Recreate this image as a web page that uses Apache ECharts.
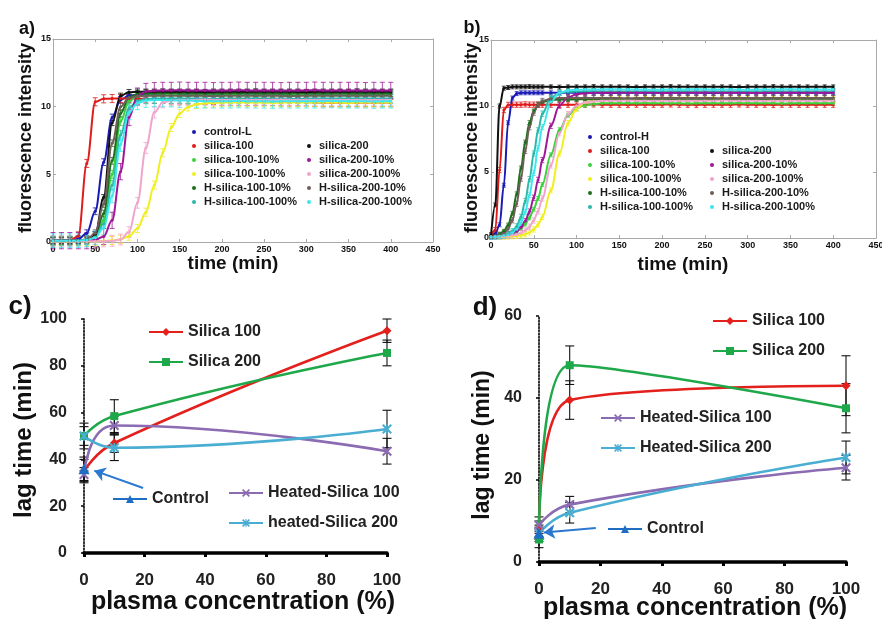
<!DOCTYPE html>
<html>
<head>
<meta charset="utf-8">
<title>Silica kinetics and lag times</title>
<script src="https://cdn.jsdelivr.net/npm/echarts@6/dist/echarts.min.js"></script>
<style>
  html, body { margin: 0; padding: 0; background: #ffffff; }
  #main { width: 882px; height: 619px; }
</style>
</head>
<body>
<div id="main"></div>
<script>
// ---------- panel a: fluorescence kinetics, sampling every 10 min ----------
const TIME_A = [0,10,20,30,40,50,60,70,80,90,100,110,120,130,140,150,160,170,180,190,
  200,210,220,230,240,250,260,270,280,290,300,310,320,330,340,350,360,370,380,390,400];

const A_CONTROL_L = [
  0.1, 0.1, 0.12, 0.22, 0.65, 2.27, 5.9, 9.2, 10.5, 10.82,
  10.88, 10.9, 10.9, 10.92, 10.9, 10.9, 10.88, 10.9, 10.9, 10.9,
  10.92, 10.9, 10.9, 10.9, 10.88, 10.9, 10.9, 10.9, 10.9, 10.92,
  10.9, 10.9, 10.9, 10.9, 10.88, 10.9, 10.9, 10.9, 10.9, 10.9,
  10.9];
const A_SILICA_100 = [
  0.1, 0.1, 0.1, 0.45, 5.8, 10.36, 10.58, 10.6, 10.6, 10.6,
  10.6, 10.58, 10.55, 10.55, 10.5, 10.5, 10.5, 10.48, 10.45, 10.45,
  10.4, 10.4, 10.4, 10.38, 10.4, 10.4, 10.38, 10.35, 10.35, 10.35,
  10.35, 10.32, 10.3, 10.3, 10.3, 10.3, 10.3, 10.3, 10.3, 10.3,
  10.3];
const A_SILICA_100_10 = [
  0.1, 0.1, 0.1, 0.11, 0.16, 0.41, 1.6, 5.0, 8.9, 10.4,
  10.76, 10.83, 10.85, 10.85, 10.86, 10.85, 10.85, 10.84, 10.85, 10.85,
  10.85, 10.86, 10.85, 10.85, 10.85, 10.84, 10.85, 10.85, 10.85, 10.86,
  10.85, 10.85, 10.85, 10.84, 10.85, 10.85, 10.85, 10.85, 10.85, 10.85,
  10.85];
const A_SILICA_100_100 = [
  0.05, 0.05, 0.05, 0.05, 0.05, 0.05, 0.07, 0.11, 0.2, 0.43,
  1.0, 2.2, 4.2, 6.6, 8.46, 9.5, 9.98, 10.17, 10.25, 10.28,
  10.3, 10.3, 10.32, 10.3, 10.3, 10.3, 10.28, 10.3, 10.3, 10.3,
  10.32, 10.3, 10.3, 10.3, 10.3, 10.28, 10.3, 10.3, 10.3, 10.3,
  10.3];
const A_H_SILICA_100_10 = [
  0.1, 0.1, 0.1, 0.12, 0.19, 0.53, 2.1, 6.0, 9.5, 10.7,
  10.93, 11.0, 11.0, 11.0, 11.02, 11.0, 11.0, 11.0, 10.98, 11.0,
  11.0, 11.0, 11.0, 11.02, 11.0, 11.0, 11.0, 11.0, 10.98, 11.0,
  11.0, 11.0, 11.0, 11.0, 11.02, 11.0, 11.0, 11.0, 11.0, 11.0,
  11.0];
const A_H_SILICA_100_100 = [
  0.1, 0.1, 0.1, 0.12, 0.16, 0.4, 1.35, 4.2, 7.9, 9.9,
  10.43, 10.57, 10.6, 10.6, 10.6, 10.62, 10.6, 10.6, 10.6, 10.58,
  10.6, 10.6, 10.6, 10.6, 10.62, 10.6, 10.6, 10.6, 10.6, 10.58,
  10.6, 10.6, 10.6, 10.6, 10.6, 10.62, 10.6, 10.6, 10.6, 10.6,
  10.6];
const A_SILICA_200 = [
  0.1, 0.1, 0.1, 0.1, 0.15, 0.57, 3.3, 8.8, 10.8, 11.07,
  11.1, 11.1, 11.1, 11.12, 11.1, 11.1, 11.1, 11.1, 11.08, 11.1,
  11.1, 11.1, 11.1, 11.1, 11.12, 11.1, 11.1, 11.1, 11.1, 11.1,
  11.08, 11.1, 11.1, 11.1, 11.1, 11.1, 11.12, 11.1, 11.1, 11.1,
  11.1];
const A_SILICA_200_10 = [
  0.1, 0.1, 0.1, 0.1, 0.1, 0.16, 0.41, 1.6, 5.2, 9.2,
  10.78, 11.12, 11.18, 11.2, 11.2, 11.22, 11.2, 11.2, 11.2, 11.18,
  11.2, 11.2, 11.22, 11.2, 11.2, 11.2, 11.2, 11.18, 11.2, 11.2,
  11.2, 11.22, 11.2, 11.2, 11.2, 11.2, 11.2, 11.18, 11.2, 11.2,
  11.2];
const A_SILICA_200_100 = [
  0.05, 0.05, 0.05, 0.05, 0.05, 0.05, 0.05, 0.08, 0.18, 0.73,
  2.9, 6.95, 9.57, 10.31, 10.46, 10.5, 10.5, 10.5, 10.52, 10.5,
  10.5, 10.5, 10.48, 10.5, 10.5, 10.5, 10.5, 10.52, 10.5, 10.5,
  10.5, 10.5, 10.5, 10.48, 10.5, 10.5, 10.5, 10.5, 10.5, 10.5,
  10.5];
const A_H_SILICA_200_10 = [
  0.1, 0.1, 0.1, 0.12, 0.19, 0.65, 2.8, 7.3, 10.0, 10.66,
  10.78, 10.8, 10.8, 10.8, 10.82, 10.8, 10.8, 10.8, 10.8, 10.78,
  10.8, 10.8, 10.8, 10.82, 10.8, 10.8, 10.8, 10.8, 10.78, 10.8,
  10.8, 10.8, 10.8, 10.8, 10.82, 10.8, 10.8, 10.8, 10.8, 10.8,
  10.8];
const A_H_SILICA_200_100 = [
  0.1, 0.1, 0.1, 0.1, 0.15, 0.32, 1.04, 3.4, 7.2, 9.56,
  10.28, 10.45, 10.5, 10.5, 10.48, 10.45, 10.45, 10.42, 10.4, 10.4,
  10.4, 10.4, 10.42, 10.4, 10.4, 10.4, 10.38, 10.4, 10.4, 10.4,
  10.4, 10.4, 10.4, 10.42, 10.4, 10.4, 10.4, 10.4, 10.38, 10.4,
  10.4];

// ---------- panel b: fluorescence kinetics, 5 min steps to 60 min, then 10 min ----------
const TIME_B = [0,5,10,15,20,25,30,35,40,45,50,55,60,
  70,80,90,100,110,120,130,140,150,160,
  170,180,190,200,210,220,230,240,250,260,
  270,280,290,300,310,320,330,340,350,360,
  370,380,390,400];

const B_CONTROL_H = [
  0.2, 0.33, 1.0, 4.0, 8.73, 10.6, 10.94, 11.0, 11.0, 11.0, 11.0, 11.0, 11.0,
  11.0, 11.0, 11.02, 11.0, 11.0, 11.0, 11.0, 10.98, 11.0, 11.0,
  11.0, 11.0, 11.0, 11.02, 11.0, 11.0, 11.0, 11.0, 11.0, 10.98,
  11.0, 11.0, 11.0, 11.0, 11.02, 11.0, 11.0, 11.0, 11.0, 11.0,
  11.0, 11.0, 11.0, 11.0];
const B_SILICA_100 = [
  0.2, 0.6, 5.15, 9.7, 10.08, 10.1, 10.1, 10.1, 10.12, 10.1, 10.1, 10.1, 10.1,
  10.1, 10.08, 10.1, 10.1, 10.1, 10.12, 10.1, 10.1, 10.1, 10.08,
  10.1, 10.1, 10.1, 10.1, 10.12, 10.1, 10.1, 10.08, 10.1, 10.1,
  10.1, 10.1, 10.12, 10.1, 10.1, 10.1, 10.08, 10.1, 10.1, 10.1,
  10.1, 10.1, 10.1, 10.1];
const B_SILICA_100_10 = [
  0.13, 0.14, 0.17, 0.21, 0.27, 0.36, 0.5, 0.72, 1.06, 1.53, 2.18, 3.0, 4.05,
  6.3, 8.2, 9.3, 9.83, 10.06, 10.15, 10.2, 10.2, 10.2, 10.2,
  10.2, 10.22, 10.2, 10.2, 10.2, 10.2, 10.18, 10.2, 10.2, 10.2,
  10.2, 10.2, 10.22, 10.2, 10.2, 10.2, 10.2, 10.18, 10.2, 10.2,
  10.2, 10.2, 10.2, 10.2];
const B_SILICA_100_100 = [
  0.1, 0.1, 0.1, 0.11, 0.12, 0.14, 0.16, 0.21, 0.29, 0.42, 0.65, 1.03, 1.6,
  3.6, 6.4, 8.7, 9.8, 10.27, 10.43, 10.48, 10.5, 10.5, 10.5,
  10.5, 10.52, 10.5, 10.5, 10.5, 10.48, 10.5, 10.5, 10.5, 10.5,
  10.52, 10.5, 10.5, 10.5, 10.5, 10.48, 10.5, 10.5, 10.5, 10.5,
  10.5, 10.5, 10.5, 10.5];
const B_H_SILICA_100_10 = [
  0.1, 0.19, 0.29, 0.51, 0.98, 1.87, 3.34, 5.3, 7.26, 8.74, 9.62, 10.1, 10.3,
  10.45, 10.5, 10.5, 10.5, 10.52, 10.5, 10.5, 10.5, 10.48, 10.5,
  10.5, 10.5, 10.5, 10.52, 10.5, 10.5, 10.5, 10.5, 10.5, 10.48,
  10.5, 10.5, 10.5, 10.5, 10.52, 10.5, 10.5, 10.5, 10.5, 10.5,
  10.5, 10.5, 10.5, 10.5];
const B_H_SILICA_100_100 = [
  0.1, 0.12, 0.15, 0.2, 0.3, 0.5, 0.88, 1.6, 2.8, 4.46, 6.4, 8.15, 9.42,
  10.64, 11.0, 11.07, 11.1, 11.1, 11.12, 11.1, 11.1, 11.1, 11.1,
  11.08, 11.1, 11.1, 11.1, 11.1, 11.12, 11.1, 11.1, 11.1, 11.1,
  11.1, 11.08, 11.1, 11.1, 11.1, 11.1, 11.12, 11.1, 11.1, 11.1,
  11.1, 11.1, 11.1, 11.1];
const B_SILICA_200 = [
  0.2, 2.5, 10.0, 11.35, 11.4, 11.45, 11.45, 11.45, 11.45, 11.47, 11.45, 11.45, 11.45,
  11.45, 11.43, 11.45, 11.45, 11.45, 11.47, 11.45, 11.45, 11.45, 11.45,
  11.43, 11.45, 11.45, 11.45, 11.47, 11.45, 11.45, 11.45, 11.45, 11.45,
  11.45, 11.45, 11.43, 11.45, 11.45, 11.45, 11.47, 11.45, 11.45, 11.45,
  11.45, 11.45, 11.45, 11.45];
const B_SILICA_200_10 = [
  0.1, 0.13, 0.15, 0.18, 0.24, 0.34, 0.52, 0.8, 1.28, 2.0, 3.05, 4.4, 5.9,
  8.5, 10.03, 10.66, 10.89, 10.96, 11.0, 11.0, 11.0, 11.02, 11.0,
  11.0, 11.0, 11.0, 10.98, 11.0, 11.0, 11.0, 11.0, 11.02, 11.0,
  11.0, 11.0, 11.0, 11.0, 10.98, 11.0, 11.0, 11.0, 11.0, 11.0,
  11.0, 11.0, 11.0, 11.0];
const B_SILICA_200_100 = [
  0.1, 0.12, 0.13, 0.14, 0.16, 0.2, 0.27, 0.38, 0.56, 0.86, 1.33, 2.03, 3.0,
  5.5, 7.94, 9.38, 10.02, 10.27, 10.36, 10.4, 10.4, 10.4, 10.42,
  10.4, 10.4, 10.4, 10.4, 10.38, 10.4, 10.4, 10.4, 10.4, 10.4,
  10.42, 10.4, 10.4, 10.4, 10.4, 10.38, 10.4, 10.4, 10.4, 10.4,
  10.4, 10.4, 10.4, 10.4];
const B_H_SILICA_200_10 = [
  0.1, 0.16, 0.22, 0.36, 0.69, 1.35, 2.6, 4.5, 6.6, 8.4, 9.5, 10.1, 10.38,
  10.55, 10.6, 10.6, 10.6, 10.62, 10.6, 10.6, 10.6, 10.6, 10.58,
  10.6, 10.6, 10.6, 10.6, 10.62, 10.6, 10.6, 10.6, 10.6, 10.6,
  10.58, 10.6, 10.6, 10.6, 10.6, 10.62, 10.6, 10.6, 10.6, 10.6,
  10.6, 10.6, 10.6, 10.6];
const B_H_SILICA_200_100 = [
  0.1, 0.12, 0.14, 0.18, 0.25, 0.4, 0.67, 1.15, 1.97, 3.26, 4.93, 6.8, 8.4,
  10.33, 11.0, 11.18, 11.23, 11.25, 11.25, 11.25, 11.27, 11.25, 11.25,
  11.25, 11.25, 11.23, 11.25, 11.25, 11.25, 11.25, 11.27, 11.25, 11.25,
  11.25, 11.25, 11.25, 11.23, 11.25, 11.25, 11.25, 11.25, 11.27, 11.25,
  11.25, 11.25, 11.25, 11.25];

const NAMES_A = ['control-L', 'silica-100', 'silica-100-10%', 'silica-100-100%', 'H-silica-100-10%',
  'H-silica-100-100%', 'silica-200', 'silica-200-10%', 'silica-200-100%', 'H-silica-200-10%', 'H-silica-200-100%'];
const NAMES_B = ['control-H', 'silica-100', 'silica-100-10%', 'silica-100-100%', 'H-silica-100-10%',
  'H-silica-100-100%', 'silica-200', 'silica-200-10%', 'silica-200-100%', 'H-silica-200-10%', 'H-silica-200-100%'];
const VALUES_A = [A_CONTROL_L, A_SILICA_100, A_SILICA_100_10, A_SILICA_100_100, A_H_SILICA_100_10,
  A_H_SILICA_100_100, A_SILICA_200, A_SILICA_200_10, A_SILICA_200_100, A_H_SILICA_200_10, A_H_SILICA_200_100];
const VALUES_B = [B_CONTROL_H, B_SILICA_100, B_SILICA_100_10, B_SILICA_100_100, B_H_SILICA_100_10,
  B_H_SILICA_100_100, B_SILICA_200, B_SILICA_200_10, B_SILICA_200_100, B_H_SILICA_200_10, B_H_SILICA_200_100];
// standard deviation of the replicate readings, one per curve
const SD_A = [0.25, 0.3, 0.3, 0.3, 0.25, 0.35, 0.2, 0.6, 0.4, 0.25, 0.5];
const SD_B = [0.15, 0.2, 0.15, 0.2, 0.15, 0.2, 0.15, 0.2, 0.2, 0.2, 0.2];
const COLORS_AB = ['#1a1ab4', '#e01b1b', '#3ad13a', '#f0ee1e', '#1e6e1e', '#2cb8a8',
  '#111111', '#a0189a', '#f0a6cc', '#6e5e58', '#3ee6ee'];

// ---------- panels c and d: lag time vs plasma concentration ----------
const PLASMA = [0, 10, 100];
const C_SILICA_100 = [35, 47, 95];
const C_SILICA_100_ERR = [5, 4, 5];
const C_SILICA_200 = [50, 58.5, 85.5];
const C_SILICA_200_ERR = [5.5, 7, 5.5];
const C_HEATED_100 = [33.5, 54.5, 43.5];
const C_HEATED_100_ERR = [3, 4, 5.5];
const C_HEATED_200 = [50, 45, 53];
const C_HEATED_200_ERR = [4, 5.5, 8];
const C_CONTROL = [36];
const C_CONTROL_ERR = [5];

const D_SILICA_100 = [8, 39.5, 43];
const D_SILICA_100_ERR = [2, 4.7, 7.3];
const D_SILICA_200 = [5.5, 48, 37.5];
const D_SILICA_200_ERR = [2, 4.7, 6];
const D_HEATED_100 = [9, 14, 23];
const D_HEATED_100_ERR = [2, 2, 3];
const D_HEATED_200 = [7, 12, 25.5];
const D_HEATED_200_ERR = [2, 2.5, 4];
const D_CONTROL = [7];
const D_CONTROL_ERR = [1.5];

const LAG_COLORS = {
  s100: '#e3201b', s200: '#1fa84a', h100: '#8b6bb2', h200: '#4aaed2', ctrl: '#1f6ec4'
};

const FONT = "'Liberation Sans', Arial, Helvetica, sans-serif";
const FRAME = '#a9a9a9';
const X_MARK = 'path://M0,1.5L1.5,0L5,3.5L8.5,0L10,1.5L6.5,5L10,8.5L8.5,10L5,6.5L1.5,10L0,8.5L3.5,5Z';
const STAR_MARK = 'path://M0,1.5L1.5,0L5,3.5L8.5,0L10,1.5L6.5,5L10,8.5L8.5,10L5,6.5L1.5,10L0,8.5L3.5,5Z' +
  'M4.3,0L5.7,0L5.7,10L4.3,10Z';

const chart = echarts.init(document.getElementById('main'), null, { renderer: 'canvas' });

// error bar drawing: vertical whisker with caps
function errorRenderer(color, capHalf, width, fixedSd) {
  return function (params, api) {
    const x = api.value(0), y = api.value(1);
    const e = fixedSd != null ? fixedSd : api.value(2);
    const top = api.coord([x, y + e]);
    const bot = api.coord([x, y - e]);
    const style = { stroke: color, lineWidth: width, fill: null };
    return {
      type: 'group',
      children: [
        { type: 'line', shape: { x1: top[0], y1: top[1], x2: bot[0], y2: bot[1] }, style: style },
        { type: 'line', shape: { x1: top[0] - capHalf, y1: top[1], x2: top[0] + capHalf, y2: top[1] }, style: style },
        { type: 'line', shape: { x1: bot[0] - capHalf, y1: bot[1], x2: bot[0] + capHalf, y2: bot[1] }, style: style }
      ]
    };
  };
}

const series = [];

function addKinetics(names, times, values, sds, axisIndex, cap) {
  names.forEach(function (name, i) {
    const pts = times.map(function (t, k) { return [t, values[i][k]]; });
    series.push({
      type: 'line', name: name, xAxisIndex: axisIndex, yAxisIndex: axisIndex,
      data: pts, smooth: 0.35, smoothMonotone: 'x',
      symbol: 'circle', symbolSize: 3, showSymbol: true,
      lineStyle: { width: 2, color: COLORS_AB[i] },
      itemStyle: { color: COLORS_AB[i] },
      emphasis: { disabled: true }, z: 3
    });
  });
  names.forEach(function (name, i) {
    const pts = times.map(function (t, k) { return [t, values[i][k]]; });
    series.push({
      type: 'custom', name: name, xAxisIndex: axisIndex, yAxisIndex: axisIndex,
      data: pts, encode: { x: 0, y: 1 }, silent: true, z: 2,
      itemStyle: { color: COLORS_AB[i] },
      renderItem: errorRenderer(COLORS_AB[i], cap, 0.8, sds[i])
    });
  });
}

addKinetics(NAMES_A, TIME_A, VALUES_A, SD_A, 0, 2.5);
addKinetics(NAMES_B, TIME_B, VALUES_B, SD_B, 2, 2);

function addLag(name, xs, ys, errs, axisIndex, color, symbol, size, extra) {
  const pts = xs.map(function (x, k) { return [x, ys[k]]; });
  const s = {
    type: 'line', name: name, xAxisIndex: axisIndex, yAxisIndex: axisIndex,
    data: pts, smooth: 0.5, clip: false,
    symbol: symbol, symbolSize: size, showSymbol: true,
    lineStyle: { width: 2.6, color: color },
    itemStyle: { color: color },
    emphasis: { disabled: true }, z: 4
  };
  if (extra) Object.assign(s, extra);
  series.push(s);
  series.push({
    type: 'custom', name: name, xAxisIndex: axisIndex, yAxisIndex: axisIndex,
    data: xs.map(function (x, k) { return [x, ys[k], errs[k]]; }),
    encode: { x: 0, y: 1 }, silent: true, z: 3, clip: false,
    itemStyle: { color: color },
    renderItem: errorRenderer('#111111', 4.5, 1.1, null)
  });
}

function arrowTo(from, to) {
  return {
    markLine: {
      silent: true, symbol: ['none', 'arrow'], symbolSize: 11,
      lineStyle: { color: '#2a78cf', width: 2, type: 'solid' },
      label: { show: false },
      data: [[{ coord: from }, { coord: to }]]
    }
  };
}

addLag('Silica 100', PLASMA, C_SILICA_100, C_SILICA_100_ERR, 4, LAG_COLORS.s100, 'diamond', 9);
addLag('Silica 200', PLASMA, C_SILICA_200, C_SILICA_200_ERR, 4, LAG_COLORS.s200, 'rect', 8);
addLag('Heated-Silica 100', PLASMA, C_HEATED_100, C_HEATED_100_ERR, 4, LAG_COLORS.h100, X_MARK, 10);
addLag('heated-Silica 200', PLASMA, C_HEATED_200, C_HEATED_200_ERR, 4, LAG_COLORS.h200, STAR_MARK, 10);
addLag('Control', [0], C_CONTROL, C_CONTROL_ERR, 4, LAG_COLORS.ctrl, 'triangle', 11,
  arrowTo([19.5, 27.8], [3.4, 35.2]));

addLag('Silica 100', PLASMA, D_SILICA_100, D_SILICA_100_ERR, 5, LAG_COLORS.s100, 'diamond', 9);
addLag('Silica 200', PLASMA, D_SILICA_200, D_SILICA_200_ERR, 5, LAG_COLORS.s200, 'rect', 8);
addLag('Heated-Silica 100', PLASMA, D_HEATED_100, D_HEATED_100_ERR, 5, LAG_COLORS.h100, X_MARK, 10);
addLag('Heated-Silica 200', PLASMA, D_HEATED_200, D_HEATED_200_ERR, 5, LAG_COLORS.h200, STAR_MARK, 10);
addLag('Control', [0], D_CONTROL, D_CONTROL_ERR, 5, LAG_COLORS.ctrl, 'triangle', 11,
  arrowTo([18.5, 8.3], [1.6, 7.2]));

// ---------- axes ----------
function frameAxisX(gridIndex, position, labels) {
  return {
    type: 'value', gridIndex: gridIndex, position: position, min: 0, max: 450, interval: 50,
    axisLine: { show: true, onZero: false, lineStyle: { color: FRAME, width: 1 } },
    axisTick: { show: true, inside: true, length: 3, lineStyle: { color: FRAME } },
    axisLabel: { show: labels, margin: 3, fontSize: 9, fontWeight: 'bold', color: '#111', fontFamily: FONT },
    splitLine: { show: false }
  };
}
function frameAxisY(gridIndex, position, labels) {
  return {
    type: 'value', gridIndex: gridIndex, position: position, min: 0, max: 15, interval: 5,
    axisLine: { show: true, onZero: false, lineStyle: { color: FRAME, width: 1 } },
    axisTick: { show: true, inside: true, length: 3, lineStyle: { color: FRAME } },
    axisLabel: { show: labels, margin: 2, fontSize: 9, fontWeight: 'bold', color: '#111', fontFamily: FONT },
    splitLine: { show: false }
  };
}
function lagAxisX(gridIndex) {
  return {
    type: 'value', gridIndex: gridIndex, min: 0, max: 100, interval: 20,
    axisLine: { show: true, onZero: false, lineStyle: { color: '#000', width: 3.5 } },
    axisTick: { show: true, length: 4, lineStyle: { color: '#000', width: 3 } },
    axisLabel: { margin: 19, fontSize: 17, fontWeight: 'bold', color: '#222', fontFamily: FONT },
    splitLine: { show: false }
  };
}
function lagAxisY(gridIndex, max) {
  return {
    type: 'value', gridIndex: gridIndex, min: 0, max: max, interval: 20,
    axisLine: { show: true, onZero: false, lineStyle: { color: '#000', width: 1.6, type: 'dotted' } },
    axisTick: { show: true, length: 3, lineStyle: { color: '#000', width: 1.5 } },
    axisLabel: { margin: 17, fontSize: 16, fontWeight: 'bold', color: '#222', fontFamily: FONT },
    splitLine: { show: false }
  };
}

// ---------- legends ----------
function dotLegend(names, left, top) {
  return {
    data: names, left: left, top: top, orient: 'vertical', padding: 0,
    icon: 'circle', itemWidth: 10, itemHeight: 4, itemGap: 0,
    textStyle: { fontSize: 11, fontWeight: 'bold', color: '#1a1a1a', fontFamily: FONT, lineHeight: 14 }
  };
}
function lineLegend(names, left, top) {
  return {
    data: names, left: left, top: top, orient: 'vertical', padding: 0,
    itemWidth: 34, itemHeight: 10, itemGap: 12,
    textStyle: { fontSize: 16, fontWeight: 'bold', color: '#222', fontFamily: FONT, lineHeight: 18 }
  };
}

function label(text, x, y, size, rotate) {
  return {
    type: 'text', x: x, y: y, rotation: rotate ? Math.PI / 2 : 0, silent: true, z: 100,
    style: {
      text: text, fill: '#111', fontSize: size, fontWeight: 'bold', fontFamily: FONT,
      align: 'center', verticalAlign: 'middle', textAlign: 'center', textVerticalAlign: 'middle'
    }
  };
}

const option = {
  animation: false,
  backgroundColor: '#ffffff',
  textStyle: { fontFamily: FONT },
  grid: [
    { left: 53, top: 39, width: 380, height: 203, outerBoundsMode: 'none' },
    { left: 491, top: 40, width: 385, height: 198, outerBoundsMode: 'none' },
    { left: 84, top: 319, width: 303, height: 234, outerBoundsMode: 'none' },
    { left: 539, top: 316, width: 307, height: 246, outerBoundsMode: 'none' }
  ],
  xAxis: [
    frameAxisX(0, 'bottom', true), frameAxisX(0, 'top', false),
    frameAxisX(1, 'bottom', true), frameAxisX(1, 'top', false),
    lagAxisX(2), lagAxisX(3)
  ],
  yAxis: [
    frameAxisY(0, 'left', true), frameAxisY(0, 'right', false),
    frameAxisY(1, 'left', true), frameAxisY(1, 'right', false),
    lagAxisY(2, 100), lagAxisY(3, 60)
  ],
  legend: [
    dotLegend(['control-L', 'silica-100', 'silica-100-10%', 'silica-100-100%', 'H-silica-100-10%', 'H-silica-100-100%'], 192, 125),
    dotLegend(['silica-200', 'silica-200-10%', 'silica-200-100%', 'H-silica-200-10%', 'H-silica-200-100%'], 307, 139),
    dotLegend(['control-H', 'silica-100', 'silica-100-10%', 'silica-100-100%', 'H-silica-100-10%', 'H-silica-100-100%'], 588, 130),
    dotLegend(['silica-200', 'silica-200-10%', 'silica-200-100%', 'H-silica-200-10%', 'H-silica-200-100%'], 710, 144),
    lineLegend(['Silica 100', 'Silica 200'], 148, 323),
    lineLegend(['Control'], 112, 490),
    lineLegend(['Heated-Silica 100', 'heated-Silica 200'], 228, 484),
    lineLegend(['Silica 100', 'Silica 200'], 712, 312),
    lineLegend(['Heated-Silica 100', 'Heated-Silica 200'], 600, 409),
    lineLegend(['Control'], 607, 520)
  ],
  graphic: [
    label('a)', 27, 29, 18, false),
    label('b)', 472, 28, 18, false),
    label('c)', 20, 307, 26, false),
    label('d)', 485, 308, 26, false),
    label('fluorescence intensity', 26, 138, 18, true),
    label('fluorescence intensity', 472, 138, 18, true),
    label('time (min)', 233, 264, 19, false),
    label('time (min)', 683, 265, 19, false),
    label('lag time (min)', 24, 440, 24, true),
    label('lag time (min)', 483, 445, 23, true),
    label('plasma concentration (%)', 243, 602, 25, false),
    label('plasma concentration (%)', 695, 608, 25, false)
  ],
  series: series
};

chart.setOption(option);
</script>
</body>
</html>
